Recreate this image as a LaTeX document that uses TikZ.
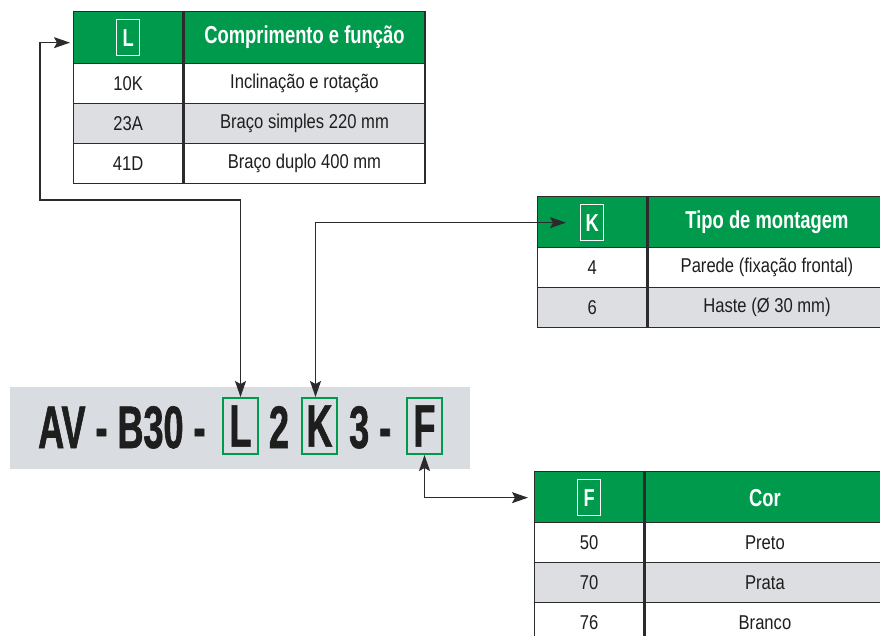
\documentclass[tikz,border=0pt]{standalone}
\usepackage{fontspec}
\setmainfont{Liberation Sans}
\newfontfamily\rowfont{Liberation Sans}[FakeStretch=0.83]
\newfontfamily\headfont{Liberation Sans}[FakeStretch=0.75]
\newfontfamily\codefont{Liberation Sans}[FakeStretch=0.6,FakeBold=1]
\usetikzlibrary{arrows.meta,positioning}
\definecolor{hdgreen}{HTML}{009A4C}
\definecolor{rowgray}{HTML}{DCDEE2}
\definecolor{bandgray}{HTML}{D9DCE0}
\definecolor{linec}{HTML}{2B2B2B}
\definecolor{inkc}{HTML}{1E1E1E}

\begin{document}
\begin{tikzpicture}[x=1pt, y=-1pt,
    cell/.style={draw=linec, line width=1.3pt, anchor=north west, minimum height=40pt, inner sep=0pt,
      text=inkc, font=\rowfont\fontsize{20}{22}\selectfont},
    headcell/.style={cell, fill=hdgreen, minimum height=52pt, text=white,
      font=\headfont\bfseries\fontsize{24.5}{27}\selectfont},
    keybox/.style={draw=white, line width=1.2pt, minimum width=23pt, minimum height=36pt, inner sep=0pt,
      text=white, font=\headfont\bfseries\fontsize{24.5}{27}\selectfont},
    codetext/.style={inner sep=0pt, text=inkc, font=\codefont\bfseries\fontsize{60}{62}\selectfont},
    codebox/.style={codetext, draw=hdgreen, line width=2pt, minimum width=35pt, minimum height=56pt},
    >={Stealth[length=16pt,width=11pt,inset=3pt]},
    conn/.style={draw=linec, line width=1.3pt, <->}]
  \clip (0,0) rectangle (880,635);

  \node[headcell, minimum width=109pt] (L-h1) at (73,11) {};
  \node[headcell, minimum width=241pt, right=0pt of L-h1] (L-h2) {Comprimento e função};
  \node[keybox] (L-key) at (L-h1) {L};
  \foreach \code/\desc/\shade [count=\i from 0] in
      {10K/Inclinação e rotação/white, 23A/Braço simples 220 mm/rowgray, 41D/Braço duplo 400 mm/white} {
    \node[cell, fill=\shade, minimum width=109pt] (L-a\i) at (73,63+40*\i) {\code};
    \node[cell, fill=\shade, minimum width=241pt, right=0pt of L-a\i] (L-b\i) {\desc};
  }

  \node[headcell, minimum width=109pt] (K-h1) at (537,196) {};
  \node[headcell, minimum width=238pt, right=0pt of K-h1] (K-h2) {Tipo de montagem};
  \node[keybox] (K-key) at (K-h1) {K};
  \foreach \code/\desc/\shade [count=\i from 0] in
      {4/Parede (fixação frontal)/white, 6/Haste (Ø 30 mm)/rowgray} {
    \node[cell, fill=\shade, minimum width=109pt] (K-a\i) at (537,247+40*\i) {\code};
    \node[cell, fill=\shade, minimum width=238pt, right=0pt of K-a\i] (K-b\i) {\desc};
  }

  \node[headcell, minimum width=109pt] (F-h1) at (534,471) {};
  \node[headcell, minimum width=240pt, right=0pt of F-h1] (F-h2) {Cor};
  \node[keybox] (F-key) at (F-h1) {F};
  \foreach \code/\desc/\shade [count=\i from 0] in
      {50/Preto/white, 70/Prata/rowgray, 76/Branco/white} {
    \node[cell, fill=\shade, minimum width=109pt] (F-a\i) at (534,522+40*\i) {\code};
    \node[cell, fill=\shade, minimum width=240pt, right=0pt of F-a\i] (F-b\i) {\desc};
  }

  \fill[bandgray] (10,387) rectangle (470,469);
  \node[codetext, anchor=base west] (prefix) at (38,448) {AV - B30 -};
  \node[codebox] (L-code) at (240.5,426) {L};
  \node[codetext, anchor=base] (two) at (279,448) {2};
  \node[codebox] (K-code) at (319.5,426) {K};
  \node[codetext, anchor=base west] (three) at (349,448) {3 -};
  \node[codebox] (F-code) at (424.5,426) {F};

  \coordinate (L-in) at ([shift={(-3,5)}]L-h1.west);
  \coordinate (K-in) at ([xshift=29pt]K-h1.west);
  \coordinate (F-in) at ([xshift=-6pt]F-h1.west);
  \draw[conn] (L-in) -| (40,200) -| (L-code.north);
  \draw[conn] ([xshift=-4pt]K-code.north) |- (K-in);
  \draw[conn] (F-code.south) |- (F-in);
\end{tikzpicture}
\end{document}
